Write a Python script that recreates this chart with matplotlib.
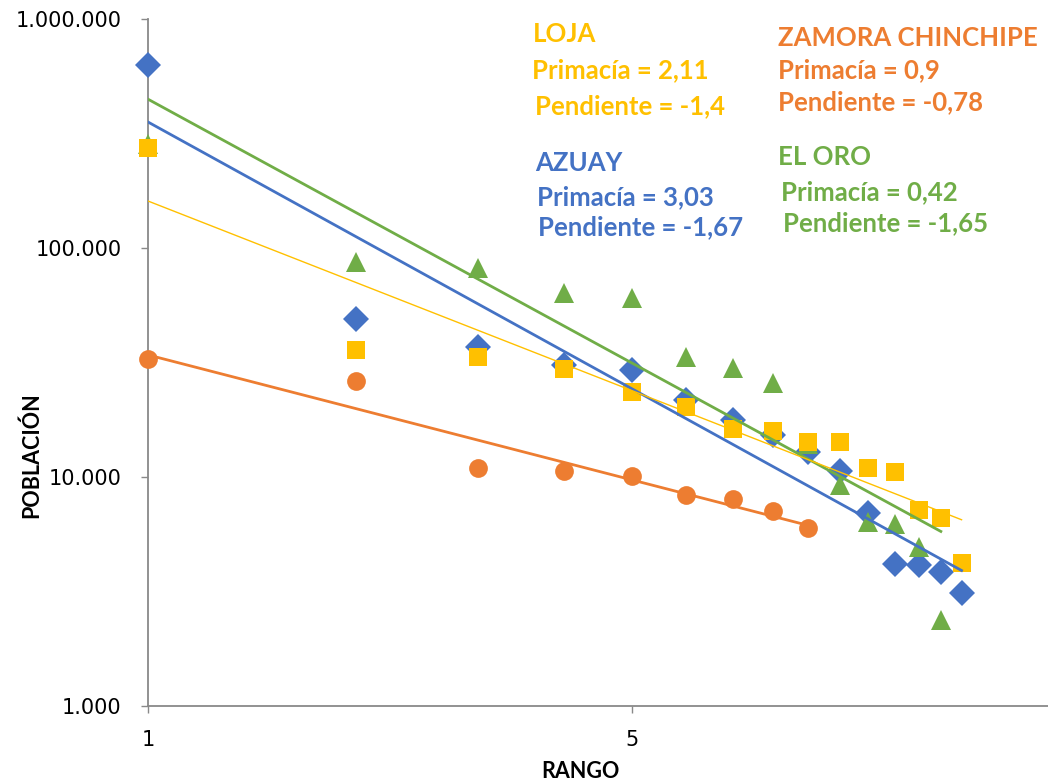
import numpy as np
import matplotlib
matplotlib.use("Agg")
import matplotlib.pyplot as plt
from matplotlib.ticker import FixedLocator, FuncFormatter, NullLocator

# ------------ datos (rango-tamaño por provincia) -----------------

rango_azuay = [1, 2, 3, 4, 5, 6, 7, 8, 9, 10, 11, 12, 13, 14, 15]
pob_azuay = [630000, 49000, 37000, 30800, 29300, 21700, 17700, 15300,
             12900, 10600, 6970, 4170, 4130, 3850, 3110]

rango_oro = [1, 2, 3, 4, 5, 6, 7, 8, 9, 10, 11, 12, 13, 14]
pob_oro = [285000, 86900, 81800, 63500, 60500, 33400, 29900, 25700,
           14000, 9230, 6360, 6230, 4950, 2375]

rango_loja = [1, 2, 3, 4, 5, 6, 7, 8, 9, 10, 11, 12, 13, 14, 15]
pob_loja = [273000, 35900, 33400, 29600, 23500, 20200, 16200, 15900,
            14200, 14200, 10900, 10500, 7180, 6620, 4210]

rango_zamora = [1, 2, 3, 4, 5, 6, 7, 8, 9]
pob_zamora = [32800, 26300, 10950, 10630, 10100, 8350, 8020, 7100, 5990]

AZUL = "#4472C4"
VERDE = "#70AD47"
AMARILLO = "#FFC000"
NARANJA = "#ED7D31"

series = [
    (rango_azuay, pob_azuay, AZUL, "D", 13, 2.0),
    (rango_oro, pob_oro, VERDE, "^", 14, 2.0),
    (rango_loja, pob_loja, AMARILLO, "s", 12.5, 1.0),
    (rango_zamora, pob_zamora, NARANJA, "o", 13.5, 2.0),
]

# textos de primacía / pendiente: (texto, color, x px, y px)
etiquetas = [
    ("LOJA", AMARILLO, 533, 34),
    ("Primacía = 2,11", AMARILLO, 532, 70),
    ("Pendiente = -1,4", AMARILLO, 535, 106),
    ("ZAMORA CHINCHIPE", NARANJA, 778, 38),
    ("Primacía = 0,9", NARANJA, 778, 70),
    ("Pendiente = -0,78", NARANJA, 778, 102),
    ("AZUAY", AZUL, 535, 163),
    ("Primacía = 3,03", AZUL, 537, 197),
    ("Pendiente = -1,67", AZUL, 538, 227),
    ("EL ORO", VERDE, 778, 157),
    ("Primacía = 0,42", VERDE, 781, 192),
    ("Pendiente = -1,65", VERDE, 783, 223),
]

# ------------ gráfico ---------------

W, H = 1048, 783
fig = plt.figure(figsize=(W / 100, H / 100), dpi=100)
ax = fig.add_axes([148 / W, 1 - 706 / H, (W - 148) / W, (706 - 19) / H])

for x, y, color, marker, ms, lw in series:
    ax.plot(x, y, linestyle="none", marker=marker, color=color,
            markersize=ms, markeredgewidth=0, zorder=3, clip_on=False)

# líneas de tendencia potenciales (ajuste log-log)
for x, y, color, marker, ms, lw in series:
    lx, ly = np.log10(x), np.log10(y)
    b, a = np.polyfit(lx, ly, 1)
    xs = np.array([x[0], x[-1]], dtype=float)
    ax.plot(xs, 10 ** (a + b * np.log10(xs)), color=color, lw=lw, zorder=4)

ax.set_xscale("log")
ax.set_yscale("log")
ax.set_xlim(1, 20)
ax.set_ylim(1000, 1000000)

ax.xaxis.set_major_locator(FixedLocator([1, 5]))
ax.xaxis.set_minor_locator(NullLocator())
ax.yaxis.set_major_locator(FixedLocator([1000, 10000, 100000, 1000000]))
ax.yaxis.set_minor_locator(NullLocator())
ax.xaxis.set_major_formatter(FuncFormatter(lambda v, p: f"{int(round(v))}"))
ax.yaxis.set_major_formatter(
    FuncFormatter(lambda v, p: f"{int(round(v)):,}".replace(",", ".")))

for s in ["top", "right"]:
    ax.spines[s].set_visible(False)
for s in ["left", "bottom"]:
    ax.spines[s].set_color("#898989")
    ax.spines[s].set_linewidth(1.3)
ax.tick_params(axis="both", colors="#898989", length=5, width=1.0,
               labelcolor="black", labelsize=15)
ax.tick_params(axis="x", pad=12)
ax.tick_params(axis="y", pad=14)

ax.set_ylabel("POBLACIÓN", fontsize=15.5, fontweight="bold", family="Lato")
ax.yaxis.set_label_coords(-0.118, 0.365)
ax.set_xlabel("RANGO", fontsize=15.5, fontweight="bold", family="Lato")
ax.xaxis.set_label_coords(0.48, -0.08)

for txt, color, px, py in etiquetas:
    fig.text(px / W, 1 - py / H, txt, color=color, fontsize=18.5,
             fontweight="bold", family="Lato", ha="left", va="center")

fig.savefig("out.png", dpi=100)
